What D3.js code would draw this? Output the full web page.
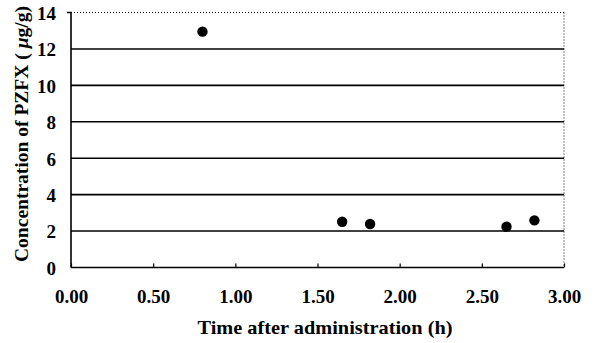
<!DOCTYPE html>
<html>
<head>
<meta charset="utf-8">
<script src="https://cdn.jsdelivr.net/npm/d3@7"></script>
<style>
  body { margin: 0; background: #fff; }
  svg text { font-family: "Liberation Serif", "DejaVu Serif", serif; font-weight: bold; fill: #000; }
</style>
</head>
<body>
<svg id="chart" width="597" height="343"></svg>
<script>
// data
var times = [0.80, 1.65, 1.82, 2.65, 2.82];
var concs = [12.95, 2.51, 2.39, 2.24, 2.59];
var xTicks = [0, 0.5, 1, 1.5, 2, 2.5, 3];
var yTicks = [0, 2, 4, 6, 8, 10, 12, 14];

var padding = {left: 71, right: 33, top: 12.5, bottom: 75.5};
var chartArea = {width: 597 - padding.left - padding.right, height: 343 - padding.top - padding.bottom};

var svg = d3.select('#chart');
var xScale = d3.scaleLinear().domain([0, 3]).range([0, chartArea.width]);
var yScale = d3.scaleLinear().domain([0, 14]).range([chartArea.height, 0]);

var g = svg.append('g').attr('transform', 'translate(' + padding.left + ',' + padding.top + ')');

// gridlines
g.append('g').selectAll('line').data(yTicks.filter(function(d) { return d > 0 && d < 14; }))
  .enter().append('line')
  .attr('x1', 0).attr('x2', chartArea.width)
  .attr('y1', function(d) { return yScale(d); }).attr('y2', function(d) { return yScale(d); })
  .attr('stroke', '#000').attr('stroke-width', 1.6);

// dotted top and right border
g.append('line').attr('x1', 0).attr('x2', chartArea.width).attr('y1', 0).attr('y2', 0)
  .attr('stroke', '#000').attr('stroke-width', 1).attr('stroke-dasharray', '1,2');
g.append('line').attr('x1', chartArea.width).attr('x2', chartArea.width).attr('y1', 0).attr('y2', chartArea.height)
  .attr('stroke', '#000').attr('stroke-width', 1).attr('stroke-dasharray', '1,2');

// x axis
var xAxis = g.append('g').attr('transform', 'translate(0,' + chartArea.height + ')')
  .call(d3.axisBottom(xScale).tickValues(xTicks).tickSize(-4).tickPadding(22).tickFormat(d3.format('.2f')));
xAxis.select('.domain').attr('stroke-width', 1.6).attr('d', 'M0,0H' + chartArea.width);
xAxis.selectAll('.tick line').attr('stroke-width', 1.2);
xAxis.selectAll('text').style('font-size', '19px');

// y axis
var yAxis = g.append('g')
  .call(d3.axisLeft(yScale).tickValues(yTicks).tickSize(4).tickPadding(11));
yAxis.select('.domain').attr('stroke-width', 1.6).attr('d', 'M-4,0H0V' + chartArea.height);
yAxis.selectAll('.tick line').remove();
yAxis.selectAll('text').style('font-size', '19px').attr('dy', '0.36em');

// points
g.append('g').selectAll('circle').data(times).enter().append('circle')
  .attr('cx', function(d) { return xScale(d); })
  .attr('cy', function(d, i) { return yScale(concs[i]); })
  .attr('r', 5.2)
  .attr('fill', '#000');

// axis titles
svg.append('text')
  .attr('x', 325).attr('y', 334)
  .attr('text-anchor', 'middle').style('font-size', '19px')
  .attr('textLength', 255).attr('lengthAdjust', 'spacingAndGlyphs')
  .text('Time after administration (h)');

var yTitle = svg.append('text')
  .attr('transform', 'translate(28,134) rotate(-90)')
  .attr('text-anchor', 'middle').style('font-size', '19px')
  .attr('textLength', 256).attr('lengthAdjust', 'spacingAndGlyphs');
yTitle.append('tspan').text('Concentration of PZFX ( ');
yTitle.append('tspan').style('font-style', 'italic').text('μ');
yTitle.append('tspan').text('g/g)');
</script>
</body>
</html>
